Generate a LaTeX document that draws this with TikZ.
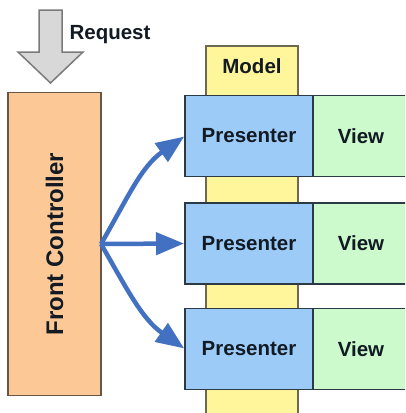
\documentclass[tikz,border=0pt]{standalone}
\usepackage{fontspec}
\setmainfont{Liberation Sans}
\usetikzlibrary{arrows.meta}
\definecolor{fcfill}{HTML}{FBC896}
\definecolor{fcdraw}{HTML}{6A5646}
\definecolor{pfill}{HTML}{9DCBF8}
\definecolor{vfill}{HTML}{CCFACC}
\definecolor{mfill}{HTML}{FFF59A}
\definecolor{mdraw}{HTML}{6E6A50}
\definecolor{bdraw}{HTML}{2C3A46}
\definecolor{rqfill}{HTML}{D8D8D8}
\definecolor{rqdraw}{HTML}{7A7A7A}
\definecolor{arrblue}{HTML}{4271C2}
\definecolor{txt}{HTML}{121A24}
\begin{document}
\begin{tikzpicture}[x=1pt,y=1pt,
  fcbox/.style={draw=fcdraw, fill=fcfill, line width=1.6pt, inner sep=0pt, outer sep=0pt,
    minimum width=303pt, minimum height=93pt, rotate=90,
    font=\fontsize{24}{28}\selectfont\bfseries, text=txt},
  pbox/.style={draw=bdraw, fill=pfill, line width=1.6pt, inner sep=0pt, outer sep=0pt,
    minimum width=128pt, minimum height=81pt,
    font=\fontsize{20.5}{24}\selectfont\bfseries, text=txt},
  vbox/.style={draw=bdraw, fill=vfill, line width=1.6pt, inner sep=0pt, outer sep=0pt,
    minimum width=96pt, minimum height=81pt,
    font=\fontsize{20.5}{24}\selectfont\bfseries, text=txt},
  mbox/.style={draw=mdraw, fill=mfill, line width=1.6pt, inner sep=0pt, outer sep=0pt,
    minimum width=92pt, minimum height=374pt},
  lbl/.style={font=\fontsize{20.5}{24}\selectfont\bfseries, text=txt, inner sep=0pt},
  flow/.style={draw=arrblue, line width=4.5pt, shorten >=1pt,
    -{Triangle[length=28pt,width=22pt]}}
]
\clip (0,0) rectangle (405,-413);
\fill[white] (0,0) rectangle (405,-413);

% request arrow
\draw[fill=rqfill, draw=rqdraw, line width=1.5pt, line join=miter]
  (39,-10) -- (62,-10) -- (62,-52) -- (83,-52) -- (50.5,-83) -- (18,-52) -- (39,-52) -- cycle;
\node[lbl] (req) at (110,-35) {Request};

% model column
\node[mbox] (model) at (252,-233) {};
\node[lbl] (modellbl) at (252,-66) {Model};

% presenters and views
\node[pbox] (p1) at (249,-136) {Presenter};
\node[vbox] (v1) at (361,-136) {View};
\node[pbox] (p2) at (249,-243.5) {Presenter};
\node[vbox] (v2) at (361,-243.5) {View};
\node[pbox] (p3) at (249,-349) {Presenter};
\node[vbox] (v3) at (361,-349) {View};

% front controller
\node[fcbox] (fc) at (54.5,-244) {Front Controller};

% arrows
\draw[flow] (fc.south) to[out=60,in=215] (p1.west);
\draw[flow] (fc.south) -- (p2.west);
\draw[flow] (fc.south) to[out=-60,in=145] (p3.west);
\end{tikzpicture}
\end{document}
